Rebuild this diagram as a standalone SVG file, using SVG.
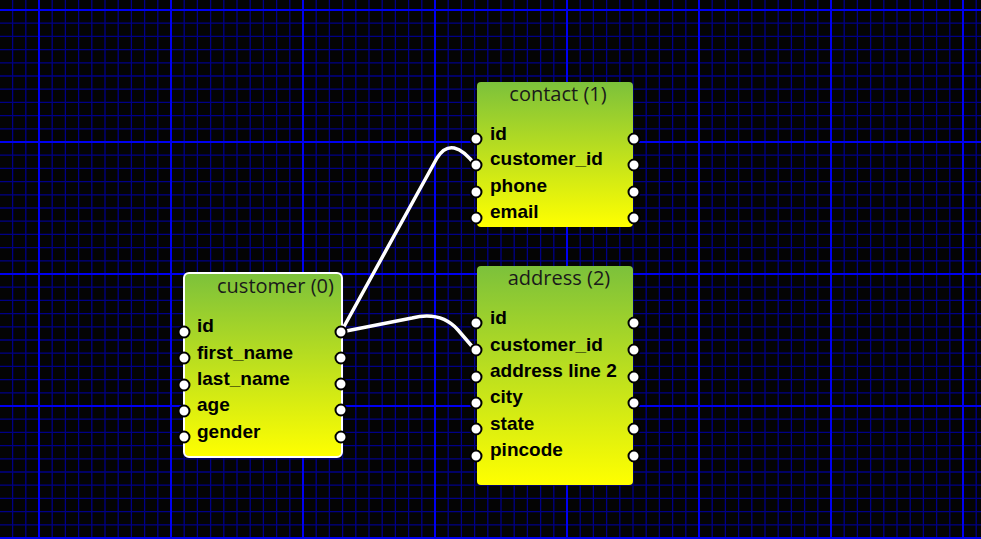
<svg xmlns="http://www.w3.org/2000/svg" width="981" height="539" viewBox="0 0 981 539">
<defs>
<linearGradient id="fillg" x1="0" y1="0" x2="0" y2="1"><stop offset="0" stop-color="#7cc13b"/><stop offset="1" stop-color="#ffff00"/></linearGradient>
<style>
.minor{fill:none;stroke:#000086;stroke-width:1.3;}
.major{fill:none;stroke:#0000f0;stroke-width:2;}
.box{fill:url(#fillg);}
.sel{stroke:#ffffff;stroke-width:2;}
.title{font-family:"Open Sans","Liberation Sans",sans-serif;font-size:20px;fill:#1a1a1a;}
.field{font-family:"Liberation Sans",Arial,sans-serif;font-size:19px;font-weight:bold;fill:#000;}
.port{fill:#ffffff;stroke:#000000;stroke-width:2;}
.conn{fill:none;stroke:#ffffff;stroke-width:3.5;stroke-linecap:round;stroke-linejoin:round;}
</style>
</defs>
<rect width="981" height="539" fill="#040404"/>
<g id="grid">
<path class="minor" d="M12.6 0V539M25.8 0V539M52.2 0V539M65.4 0V539M78.6 0V539M91.8 0V539M105 0V539M118.2 0V539M131.4 0V539M144.6 0V539M157.8 0V539M184.2 0V539M197.4 0V539M210.6 0V539M223.8 0V539M237 0V539M250.2 0V539M263.4 0V539M276.6 0V539M289.8 0V539M316.2 0V539M329.4 0V539M342.6 0V539M355.8 0V539M369 0V539M382.2 0V539M395.4 0V539M408.6 0V539M421.8 0V539M448.2 0V539M461.4 0V539M474.6 0V539M487.8 0V539M501 0V539M514.2 0V539M527.4 0V539M540.6 0V539M553.8 0V539M580.2 0V539M593.4 0V539M606.6 0V539M619.8 0V539M633 0V539M646.2 0V539M659.4 0V539M672.6 0V539M685.8 0V539M712.2 0V539M725.4 0V539M738.6 0V539M751.8 0V539M765 0V539M778.2 0V539M791.4 0V539M804.6 0V539M817.8 0V539M844.2 0V539M857.4 0V539M870.6 0V539M883.8 0V539M897 0V539M910.2 0V539M923.4 0V539M936.6 0V539M949.8 0V539M976.2 0V539M0 23.2H981M0 36.4H981M0 49.6H981M0 62.8H981M0 76H981M0 89.2H981M0 102.4H981M0 115.6H981M0 128.8H981M0 155.2H981M0 168.4H981M0 181.6H981M0 194.8H981M0 208H981M0 221.2H981M0 234.4H981M0 247.6H981M0 260.8H981M0 287.2H981M0 300.4H981M0 313.6H981M0 326.8H981M0 340H981M0 353.2H981M0 366.4H981M0 379.6H981M0 392.8H981M0 419.2H981M0 432.4H981M0 445.6H981M0 458.8H981M0 472H981M0 485.2H981M0 498.4H981M0 511.6H981M0 524.8H981"/>
<path class="major" d="M39 0V539M171 0V539M303 0V539M435 0V539M567 0V539M699 0V539M831 0V539M963 0V539M0 10H981M0 142H981M0 274H981M0 406H981M0 538H981"/>
</g>
<g id="connectors">
<path class="conn" d="M341,332 L437,158 Q452,134 476,166"/>
<path class="conn" d="M341,332 L412,318 Q441,311 458,330 L476,351"/>
</g>
<g id="customer">
<rect class="box sel" x="184" y="273" width="158" height="184" rx="5"/>
<text class="title" x="217" y="293">customer (0)</text>
<text class="field" x="197" y="332">id</text>
<text class="field" x="197" y="359">first_name</text>
<text class="field" x="197" y="385">last_name</text>
<text class="field" x="197" y="411">age</text>
<text class="field" x="197" y="438">gender</text>
<circle class="port" cx="184" cy="332" r="5.5"/>
<circle class="port" cx="184" cy="358" r="5.5"/>
<circle class="port" cx="184" cy="385" r="5.5"/>
<circle class="port" cx="184" cy="411" r="5.5"/>
<circle class="port" cx="184" cy="437" r="5.5"/>
<circle class="port" cx="341" cy="332" r="5.5"/>
<circle class="port" cx="341" cy="358" r="5.5"/>
<circle class="port" cx="341" cy="384" r="5.5"/>
<circle class="port" cx="341" cy="410" r="5.5"/>
<circle class="port" cx="341" cy="437" r="5.5"/>
</g>
<g id="contact">
<rect class="box" x="477" y="82" width="156" height="145" rx="4"/>
<text class="title" x="558" y="101" text-anchor="middle">contact (1)</text>
<text class="field" x="490" y="140">id</text>
<text class="field" x="490" y="165">customer_id</text>
<text class="field" x="490" y="192">phone</text>
<text class="field" x="490" y="218">email</text>
<circle class="port" cx="476" cy="139" r="5.5"/>
<circle class="port" cx="476" cy="165" r="5.5"/>
<circle class="port" cx="476" cy="192" r="5.5"/>
<circle class="port" cx="476" cy="218" r="5.5"/>
<circle class="port" cx="634" cy="139" r="5.5"/>
<circle class="port" cx="634" cy="165" r="5.5"/>
<circle class="port" cx="634" cy="192" r="5.5"/>
<circle class="port" cx="634" cy="218" r="5.5"/>
</g>
<g id="address">
<rect class="box" x="477" y="266" width="156" height="219" rx="4"/>
<text class="title" x="559" y="285" text-anchor="middle">address (2)</text>
<text class="field" x="490" y="324">id</text>
<text class="field" x="490" y="351">customer_id</text>
<text class="field" x="490" y="377">address line 2</text>
<text class="field" x="490" y="403">city</text>
<text class="field" x="490" y="430">state</text>
<text class="field" x="490" y="456">pincode</text>
<circle class="port" cx="476" cy="323" r="5.5"/>
<circle class="port" cx="476" cy="350" r="5.5"/>
<circle class="port" cx="476" cy="377" r="5.5"/>
<circle class="port" cx="476" cy="403" r="5.5"/>
<circle class="port" cx="476" cy="429" r="5.5"/>
<circle class="port" cx="476" cy="456" r="5.5"/>
<circle class="port" cx="634" cy="323" r="5.5"/>
<circle class="port" cx="634" cy="350" r="5.5"/>
<circle class="port" cx="634" cy="377" r="5.5"/>
<circle class="port" cx="634" cy="403" r="5.5"/>
<circle class="port" cx="634" cy="429" r="5.5"/>
<circle class="port" cx="634" cy="456" r="5.5"/>
</g>
</svg>
